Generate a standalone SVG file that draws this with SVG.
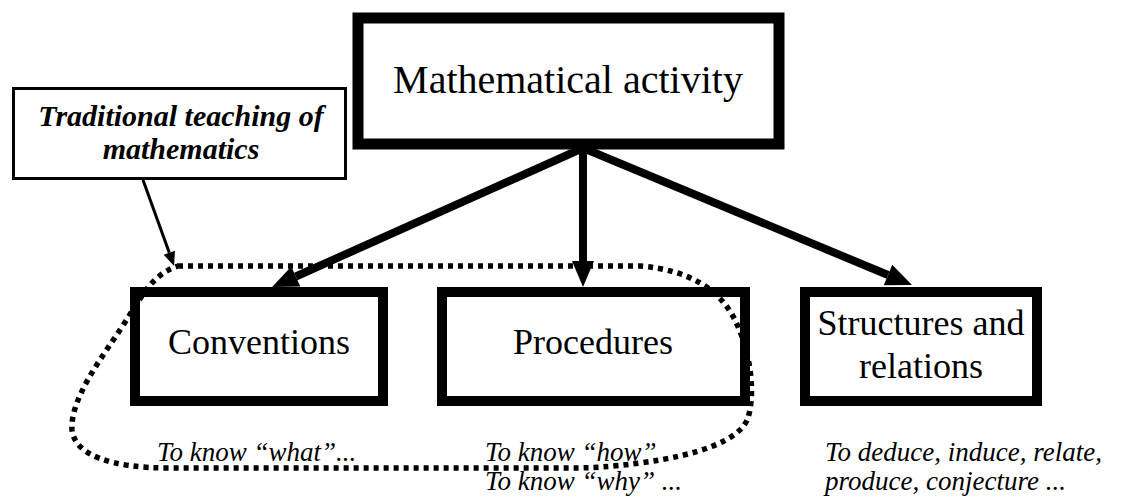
<svg xmlns="http://www.w3.org/2000/svg" width="1127" height="498" viewBox="0 0 1127 498">
<defs>
<style>
.box{fill:#fff;stroke:#000;stroke-width:10}
.thin{fill:#fff;stroke:#000;stroke-width:3}
.lbl{fill:#000;text-anchor:middle}
.it{font-style:italic;font-size:27px;fill:#000}
.arr{stroke:#000;stroke-width:8;fill:none}
.dots{stroke:#000;stroke-width:5.5;fill:none;stroke-dasharray:5 5}
</style>
<marker id="ah" markerUnits="userSpaceOnUse" markerWidth="28" markerHeight="24" refX="0" refY="11" orient="auto" overflow="visible">
<path d="M0,0 L26,11 L0,22 z" fill="#000"/>
</marker>
<marker id="ahs" markerUnits="userSpaceOnUse" markerWidth="16" markerHeight="14" refX="0" refY="6" orient="auto" overflow="visible">
<path d="M0,0 L14,6 L0,12 z" fill="#000"/>
</marker>
</defs>
<rect width="1127" height="498" fill="#fff"/>
<g font-family="'Liberation Serif', 'DejaVu Serif', serif">
<g id="node-main">
<rect x="358" y="18" width="421" height="126" class="box" style="stroke-width:11"/>
<text x="568" y="93" class="lbl" font-size="40">Mathematical activity</text>
</g>
<g id="node-traditional">
<rect x="13.5" y="88.5" width="332" height="90" class="thin"/>
<text x="181" y="126" class="lbl" font-size="30" font-weight="bold" font-style="italic">Traditional teaching of</text>
<text x="181" y="159" class="lbl" font-size="30" font-weight="bold" font-style="italic">mathematics</text>
</g>
<g id="node-conventions">
<rect x="135" y="292" width="248" height="109" class="box"/>
<text x="259" y="354" class="lbl" font-size="36">Conventions</text>
</g>
<g id="node-procedures">
<rect x="442" y="292" width="303" height="109" class="box"/>
<text x="593" y="354" class="lbl" font-size="36">Procedures</text>
</g>
<g id="node-structures">
<rect x="805" y="292" width="232" height="109" class="box"/>
<text x="921" y="335" class="lbl" font-size="36">Structures and</text>
<text x="921" y="378" class="lbl" font-size="36">relations</text>
</g>
<g id="labels">
<text x="157" y="461" class="it">To know “what”...</text>
<text x="485" y="461" class="it">To know “how”</text>
<text x="485" y="490" class="it">To know “why” ...</text>
<text x="825" y="461" class="it">To deduce, induce, relate,</text>
<text x="825" y="490" class="it">produce, conjecture ...</text>
</g>
</g>
<g id="connectors">
<line x1="583" y1="148" x2="295.8" y2="276.5" class="arr" marker-end="url(#ah)"/>
<line x1="583" y1="148" x2="583" y2="261" class="arr" marker-end="url(#ah)"/>
<line x1="583" y1="148" x2="888" y2="275" class="arr" marker-end="url(#ah)"/>
<line x1="143" y1="180" x2="169.3" y2="252.8" stroke="#000" stroke-width="3" marker-end="url(#ahs)"/>
<path d="M178,266 L640,266 C690,270 720,290 735,320 C752,355 755,395 748,418 C740,440 700,455 640,463 C610,467 590,468 570,468 L170,468 C110,468 75,455 72,430 C70,400 100,360 120,330 C140,300 150,275 178,266 Z" class="dots"/>
</g>
</svg>
